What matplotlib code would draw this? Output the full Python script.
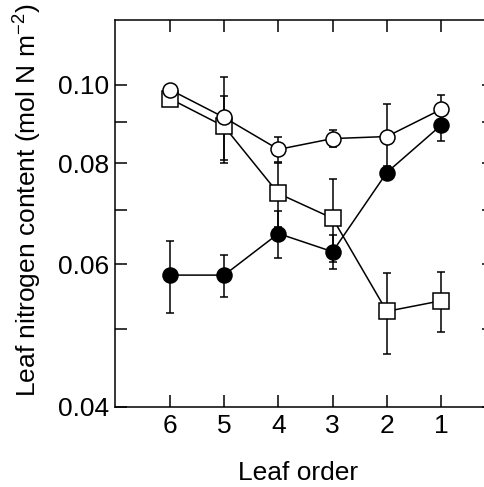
import matplotlib
matplotlib.use("Agg")
import matplotlib.pyplot as plt
from matplotlib.ticker import FixedLocator, NullFormatter, FixedFormatter

plt.rcParams['font.family'] = ['Liberation Sans', 'DejaVu Sans']
plt.rcParams['mathtext.default'] = 'regular'

# Data
leaf_order = [6, 5, 4, 3, 2, 1]
open_circle = [0.0986, 0.0911, 0.0832, 0.0858, 0.0863, 0.0932]
open_circle_err = [0.0, 0.011, 0.003, 0.002, 0.0084, 0.004]
filled_circle = [0.0582, 0.0582, 0.0655, 0.0622, 0.0779, 0.0891]
filled_circle_err = [0.006, 0.0035, 0.0044, 0.003, 0.0015, 0.004]
open_square = [0.0961, 0.0888, 0.0734, 0.0684, 0.0525, 0.0541]
open_square_err = [0.0, 0.008, 0.0067, 0.008, 0.006, 0.0046]

y_major = [0.04, 0.06, 0.08, 0.10]
y_major_labels = ['0.04', '0.06', '0.08', '0.10']
y_minor = [0.05, 0.07, 0.09]

W, H = 485, 487
fig = plt.figure(figsize=(W / 100, H / 100), dpi=100)
left_px, right_px, top_px, bottom_px = 115, 494, 20, 407
ax = fig.add_axes([left_px / W, 1 - bottom_px / H,
                   (right_px - left_px) / W, (bottom_px - top_px) / H])

lw = 1.1
ms = 10.8
err_kw = dict(fmt='none', ecolor='black', elinewidth=1.1, capsize=2.9, capthick=1.1, zorder=2)

ax.errorbar(leaf_order, open_square, yerr=open_square_err, **err_kw)
ax.errorbar(leaf_order, open_circle, yerr=open_circle_err, **err_kw)
ax.errorbar(leaf_order, filled_circle, yerr=filled_circle_err, **err_kw)

ax.plot(leaf_order, open_square, '-s', color='black', lw=lw, ms=11.2,
        mfc='white', mec='black', mew=1.1, zorder=3)
ax.plot(leaf_order, open_circle, '-o', color='black', lw=lw, ms=ms,
        mfc='white', mec='black', mew=1.1, zorder=4)
ax.plot(leaf_order, filled_circle, '-o', color='black', lw=lw, ms=ms,
        mfc='black', mec='black', mew=1.1, zorder=5)

ax.set_yscale('log')
ax.set_ylim(0.04, 0.1202)
ax.yaxis.set_major_locator(FixedLocator(y_major))
ax.yaxis.set_major_formatter(FixedFormatter(y_major_labels))
ax.yaxis.set_minor_locator(FixedLocator(y_minor))
ax.yaxis.set_minor_formatter(NullFormatter())

spacing = 54.2
ax.set_xlim(6 + (170 - left_px) / spacing, 1 - (right_px - 441) / spacing)
ax.set_xticks(leaf_order)
ax.set_xticklabels([str(v) for v in leaf_order])

ax.tick_params(axis='both', which='both', direction='in', length=8.6, width=1.1,
               top=True, right=True, labelsize=19, pad=5)
ax.tick_params(axis='y', which='major', pad=4)
for s in ax.spines.values():
    s.set_linewidth(1.1)

fig.text(298 / W, 1 - 473 / H, 'Leaf order', ha='center', va='center', fontsize=19)
fig.text(28 / W, 1 - 200 / H, 'Leaf nitrogen content (mol N m$^{-2}$)',
         ha='center', va='center', rotation=90, fontsize=19)

fig.savefig('out.png', dpi=100)
